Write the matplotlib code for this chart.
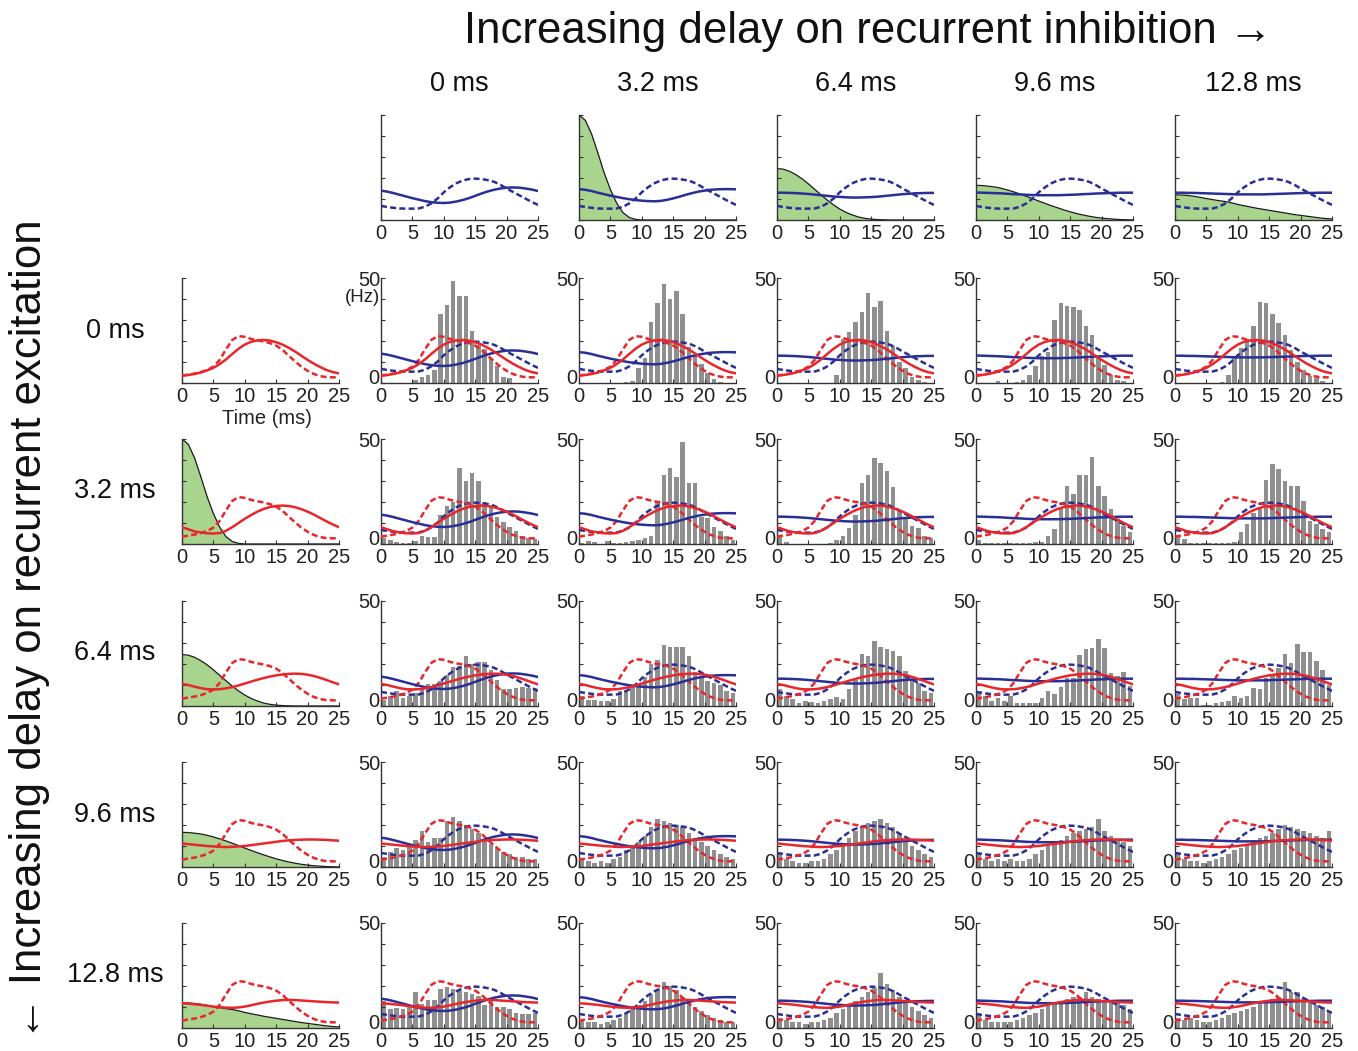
import matplotlib
matplotlib.use('Agg')
import matplotlib.pyplot as plt
import matplotlib.transforms as mtransforms
import numpy as np

plt.rcParams['font.family'] = ['Liberation Sans', 'DejaVu Sans']

# ---------------- data ----------------
t = list(range(26))                       # ms
bins = [k + 0.5 for k in range(25)]       # histogram bin centres (ms)
delay_labels = ['0 ms', '3.2 ms', '6.4 ms', '9.6 ms', '12.8 ms']
xticks = [0, 5, 10, 15, 20, 25]

red_dashed = [3.5, 4.0, 4.5, 5.2, 6.2, 7.8, 11.0, 16.0, 20.5, 22.3, 22.0, 21.0, 20.3,
              19.8, 19.0, 17.8, 15.8, 13.0, 10.3, 7.8, 5.8, 4.3, 3.3, 2.8, 2.7, 2.7]
blue_dashed = [6.7, 6.2, 5.8, 5.5, 5.4, 5.4, 5.5, 6.3, 7.9, 10.2, 13.2, 15.6, 17.5,
               18.8, 19.5, 19.7, 19.5, 19.0, 18.2, 16.8, 15.0, 13.4, 11.8, 10.2, 8.6, 7.2]

red_solid = [
    [3.5, 3.8, 4.3, 5.0, 6.0, 7.2, 9.0, 11.2, 13.8, 16.3, 18.3, 19.6, 20.3, 20.5, 20.2,
     19.4, 18.3, 16.8, 15.0, 13.0, 11.0, 9.2, 7.6, 6.2, 5.2, 4.6],
    [8.0, 7.0, 6.0, 5.5, 5.1, 5.0, 5.2, 6.3, 8.0, 10.0, 12.0, 13.8, 15.4, 16.7, 17.6,
     18.1, 18.3, 18.1, 17.5, 16.6, 15.4, 14.0, 12.4, 10.8, 9.3, 8.0],
    [10.5, 10.0, 9.2, 8.5, 8.0, 7.9, 8.0, 8.4, 9.0, 9.8, 10.7, 11.6, 12.5, 13.3, 14.0,
     14.6, 15.0, 15.3, 15.4, 15.3, 14.9, 14.3, 13.4, 12.4, 11.3, 10.3],
    [11.2, 10.9, 10.6, 10.3, 10.0, 9.8, 9.6, 9.5, 9.6, 9.8, 10.0, 10.4, 10.8, 11.2, 11.6,
     12.0, 12.4, 12.7, 12.9, 13.0, 13.1, 13.1, 13.0, 12.9, 12.7, 12.5],
    [11.8, 11.6, 11.3, 11.0, 10.6, 10.2, 9.9, 9.7, 9.6, 9.8, 10.2, 10.8, 11.5, 12.1, 12.6,
     13.0, 13.3, 13.4, 13.3, 13.1, 12.9, 12.7, 12.5, 12.3, 12.2, 12.1],
]
blue_solid = [
    [14.0, 13.5, 12.8, 12.0, 11.2, 10.4, 9.7, 9.0, 8.5, 8.2, 8.1, 8.3, 8.8, 9.5, 10.4,
     11.5, 12.6, 13.6, 14.4, 15.0, 15.4, 15.5, 15.4, 15.0, 14.5, 13.8],
    [14.7, 14.4, 13.8, 13.0, 12.3, 11.6, 11.0, 10.4, 9.9, 9.5, 9.2, 9.0, 8.9, 9.1, 9.6,
     10.3, 11.1, 12.0, 12.8, 13.5, 14.0, 14.4, 14.6, 14.7, 14.7, 14.6],
    [13.0, 13.0, 12.9, 12.8, 12.6, 12.4, 12.1, 11.8, 11.5, 11.2, 11.0, 10.8, 10.7, 10.7,
     10.8, 10.9, 11.1, 11.4, 11.7, 12.0, 12.3, 12.5, 12.7, 12.8, 12.9, 12.9],
    [13.1, 13.0, 12.9, 12.8, 12.7, 12.5, 12.3, 12.2, 12.0, 11.9, 11.8, 11.8, 11.8, 11.8,
     11.9, 12.0, 12.1, 12.3, 12.4, 12.6, 12.7, 12.8, 12.9, 13.0, 13.0, 13.0],
    [13.0, 13.0, 12.9, 12.9, 12.8, 12.7, 12.6, 12.5, 12.4, 12.3, 12.2, 12.2, 12.2, 12.2,
     12.2, 12.3, 12.4, 12.5, 12.6, 12.7, 12.8, 12.9, 12.9, 13.0, 13.0, 13.0],
]
# delay kernels (scaled to the 0-50 axis); index 0 = no delay (not drawn)
kernels = [
    None,
    [50, 47.5, 41, 32, 22.5, 14.5, 8, 3.5, 1.2, 0.3, 0, 0, 0, 0, 0, 0, 0, 0, 0, 0, 0, 0, 0, 0, 0, 0],
    [24.5, 24.2, 23.2, 21.6, 19.6, 17.2, 14.6, 12.0, 9.5, 7.2, 5.2, 3.6, 2.4, 1.4, 0.8, 0.4,
     0.2, 0.1, 0, 0, 0, 0, 0, 0, 0, 0],
    [16.5, 16.4, 16.1, 15.7, 15.1, 14.3, 13.4, 12.4, 11.3, 10.2, 9.0, 7.9, 6.8, 5.8, 4.8, 3.9,
     3.1, 2.4, 1.8, 1.3, 0.9, 0.6, 0.4, 0.2, 0.1, 0.05],
    [12.0, 11.9, 11.7, 11.3, 10.8, 10.2, 9.7, 9.2, 8.8, 8.2, 7.4, 6.8, 6.2, 5.6, 5.1, 4.6,
     4.1, 3.6, 3.1, 2.6, 2.2, 1.8, 1.4, 1.0, 0.7, 0.5],
]

# firing-rate histograms (Hz), one list of 5 panels per excitation-delay row
hist_e00 = [
    [0, 0, 0, 0, 0, 1.3, 3, 3.7, 6, 33, 37, 48.7, 41.6, 41.6, 24.6, 18, 16, 12, 8, 3, 2.5, 0, 0, 0, 0],
    [0, 0, 0, 0, 0, 0, 0, 0.5, 1, 7, 12, 29, 38, 47, 40, 44, 33, 17, 13, 9, 5, 2, 0.5, 0, 0],
    [0, 0, 0, 0, 0, 0, 0, 0, 0, 4, 21, 24.5, 29, 34, 43, 36, 39, 25, 17.5, 10, 7, 3, 1.5, 0.5, 0],
    [0, 0, 0, 1, 0, 0, 0.6, 1.4, 3.8, 8, 13, 15, 30, 38, 36.5, 36, 35, 27, 23, 12, 8.5, 4, 1.5, 1, 0],
    [0, 0, 0, 0, 0, 0, 0, 0.6, 3.8, 13, 16.5, 21, 27, 38.7, 38, 33, 28.4, 23, 15.7, 10, 6, 3.5, 2.2, 1, 0],
]
hist_e32 = [
    [2.7, 1.9, 1, 0.3, 0.3, 1.6, 3.8, 3.2, 3.2, 14, 18, 20, 36, 30, 34, 30, 20, 18, 13, 10.5, 8, 6, 4, 3, 2.5],
    [0.5, 1.4, 0.8, 0, 1.2, 0.5, 0.5, 1, 1.5, 2, 3, 3.8, 20, 33, 36, 32, 48.6, 29, 29, 13, 12.5, 8, 6, 4, 2],
    [3.5, 1, 0, 0, 0, 0, 0, 0, 0.5, 2, 3.8, 7.8, 14, 29, 33, 41, 38.7, 35, 27, 15.7, 12.5, 8.6, 7.8, 3.8, 3],
    [2, 0.5, 0.5, 0.5, 0.5, 0.5, 0.5, 0.5, 0.5, 1, 1, 4, 7, 16.7, 27.5, 23.8, 32.9, 32.9, 41.3, 27.8, 23, 16.7, 11.9, 8.7, 5.9],
    [3.2, 2.4, 0.5, 0.5, 0.5, 0.5, 0.5, 0.5, 0.5, 1, 5.6, 9.5, 15, 16.7, 30.6, 38, 35.7, 29.8, 27.5, 27.5, 20.6, 11, 9.5, 7, 5.9],
]
hist_e64 = [
    [3, 5, 7, 4, 5, 6, 8, 10.5, 10.5, 12, 15, 18.5, 19, 24, 20, 21, 21, 17, 12.5, 8, 8, 8.5, 9, 8.5, 8.5],
    [5, 3, 3, 2.5, 2.5, 3.5, 7, 7.5, 9, 10.5, 14, 20, 22, 29, 28, 28, 28, 24, 16, 14, 12, 11, 10, 7, 6],
    [8, 5, 3.5, 1.5, 2.5, 2, 1.5, 2.5, 3.5, 4.5, 3.5, 8, 12.5, 25, 24, 31, 28, 27, 26, 24, 16.5, 13, 11, 7, 6],
    [7, 4.8, 2.4, 4, 2.4, 4.8, 1.6, 1.6, 1.6, 1.6, 3.7, 7, 5.6, 9, 13.5, 13.2, 24.4, 27, 27.5, 31.7, 27.6, 15.9, 14.3, 16.2, 9.5],
    [5.6, 3.2, 4, 3.7, 0.5, 0.5, 1.6, 2, 2.4, 4.8, 4, 4.8, 8.7, 8, 13.5, 14.3, 18, 25, 20.6, 29.4, 25.9, 25.7, 21.4, 17, 10],
]
hist_e96 = [
    [5, 7, 9, 8, 10, 13, 17, 12, 14, 14, 22, 24, 22, 20, 18, 16, 13, 11, 9, 7, 6, 5, 5, 4, 4],
    [4, 3, 2, 3, 2, 4, 5, 8, 10, 12, 15, 19, 23, 22, 21, 20, 19, 16, 14, 12, 10, 8, 6, 5, 4],
    [6, 4, 3, 2, 2, 3, 3, 4, 6, 8, 11, 14, 17, 19, 21, 22, 23, 21, 19, 16, 13, 10, 8, 6, 5],
    [6, 4, 3, 4, 3, 4, 3, 3, 4, 6, 8, 10, 12, 13, 15, 16, 17, 18, 19, 23, 17, 15, 13, 12, 10],
    [6, 4, 3, 3, 2, 3, 4, 5, 6, 8, 9, 11, 13, 14, 15, 16, 18, 20, 19, 18, 17, 16, 15, 14, 17],
]
hist_e128 = [
    [12.9, 8.9, 9.7, 9.2, 10.8, 17.3, 11.6, 13.4, 13.4, 18.5, 19.4, 18.5, 17.8, 17, 16, 15.3, 10.8, 13.7, 10.2, 10.2, 8.9, 7.3, 6.5, 6.5, 7.3],
    [4, 3, 3, 2, 3, 4, 5, 7, 9, 11, 13, 16, 18, 22, 20, 18, 15, 13, 10, 8, 6, 5, 4, 3, 3],
    [5, 4, 3, 3, 2, 3, 3, 4, 5, 7, 9, 11, 13, 15, 17, 19, 26, 21, 18, 15, 12, 10, 8, 6, 5],
    [6, 4, 3, 3, 3, 3, 4, 5, 6, 7, 9, 11, 12, 13, 14, 15, 15, 17, 15, 14, 13, 12, 13, 11, 9],
    [5, 4, 5, 4, 3, 3, 4, 5, 6, 7, 8, 9, 10, 12, 13, 14, 15, 22, 17, 17, 14, 12, 11, 10, 8],
]
hists = [hist_e00, hist_e32, hist_e64, hist_e96, hist_e128]

# ---------------- style ----------------
RED = '#e8262b'
BLUE = '#2a2f96'
GREEN = '#a9d48e'
GRAY = '#8f8f8f'
LW = 1.8
DASH = (0, (2.4, 1.3))

W, H = 1358, 1051
fig = plt.figure(figsize=(W / 100, H / 100), dpi=100)
fig.patch.set_facecolor('white')

col_left = [182, 381, 579, 777, 976, 1175]
row_top = [115, 278, 439, 601, 762, 923]
AW, AH = 157, 105


def make_ax(r, c, ylabels):
    ax = fig.add_axes([col_left[c] / W, 1 - (row_top[r] + AH) / H, AW / W, AH / H])
    ax.set_xlim(0, 25)
    ax.set_ylim(0, 50)
    for s in ('top', 'right'):
        ax.spines[s].set_visible(False)
    for s in ('left', 'bottom'):
        ax.spines[s].set_color('#333333')
        ax.spines[s].set_linewidth(1.0)
    ax.set_xticks(xticks)
    ax.set_xticklabels([str(v) for v in xticks])
    ax.set_yticks(range(0, 51, 10))
    if ylabels:
        ax.set_yticklabels(['0', '', '', '', '', '50'])
    else:
        ax.set_yticklabels([])
    ax.tick_params(direction='in', length=3, width=0.8, colors='#333333',
                   labelcolor='#222222', labelsize=14.5)
    ax.tick_params(axis='x', pad=3)
    ax.tick_params(axis='y', pad=0.3)
    if ylabels:
        # lift the y "0" label a little so it sits beside, not on, the x "0"
        lab = ax.get_yticklabels()[0]
        lab.set_transform(lab.get_transform() +
                          mtransforms.ScaledTranslation(-1 / 72, 3.5 / 72, fig.dpi_scale_trans))
        lab.set_verticalalignment('center')
    ax.patch.set_alpha(0)
    return ax


def draw_kernel(ax, k):
    if kernels[k] is None:
        return
    ax.fill_between(t, kernels[k], 0, color=GREEN, lw=0, zorder=1)
    ax.plot(t, kernels[k], color='#1a1a1a', lw=0.9, zorder=2)


# top row: inhibition delay kernels + blue curves
for c in range(5):
    ax = make_ax(0, c + 1, False)
    draw_kernel(ax, c)
    ax.plot(t, blue_dashed, color=BLUE, lw=LW, ls=DASH, zorder=3)
    ax.plot(t, blue_solid[c], color=BLUE, lw=LW, zorder=3)

# left column: excitation delay kernels + red curves
for r in range(5):
    ax = make_ax(r + 1, 0, False)
    draw_kernel(ax, r)
    ax.plot(t, red_dashed, color=RED, lw=LW, ls=DASH, zorder=3)
    ax.plot(t, red_solid[r], color=RED, lw=LW, zorder=3)

# grid of histograms
for r in range(5):
    for c in range(5):
        ax = make_ax(r + 1, c + 1, True)
        ax.bar(bins, hists[r][c], width=0.72, color=GRAY, lw=0, zorder=1)
        ax.plot(t, blue_dashed, color=BLUE, lw=LW, ls=DASH, zorder=3)
        ax.plot(t, red_dashed, color=RED, lw=LW, ls=DASH, zorder=3)
        ax.plot(t, blue_solid[c], color=BLUE, lw=LW, zorder=4)
        ax.plot(t, red_solid[r], color=RED, lw=LW, zorder=4)

# ---------------- text ----------------
fig.text(868 / W, 1 - 31 / H, 'Increasing delay on recurrent inhibition \u2192',
         ha='center', va='center', fontsize=31.5, color='#111111')
fig.text(30 / W, 1 - 630 / H, '\u2190 Increasing delay on recurrent excitation',
         ha='center', va='center', rotation=90, fontsize=31.5, color='#111111')
for c in range(5):
    fig.text((col_left[c + 1] + AW / 2) / W, 1 - 84 / H, delay_labels[c],
             ha='center', va='center', fontsize=19.5, color='#111111')
for r in range(5):
    fig.text(115 / W, 1 - (row_top[r + 1] + AH / 2) / H, delay_labels[r],
             ha='center', va='center', fontsize=19.5, color='#111111')
fig.text(362 / W, 1 - 297 / H, '(Hz)', ha='center', va='center', fontsize=13.5, color='#222222')
fig.text(267 / W, 1 - 418 / H, 'Time (ms)', ha='center', va='center', fontsize=14.5, color='#222222')

fig.savefig('out.png', dpi=100, facecolor='white')
